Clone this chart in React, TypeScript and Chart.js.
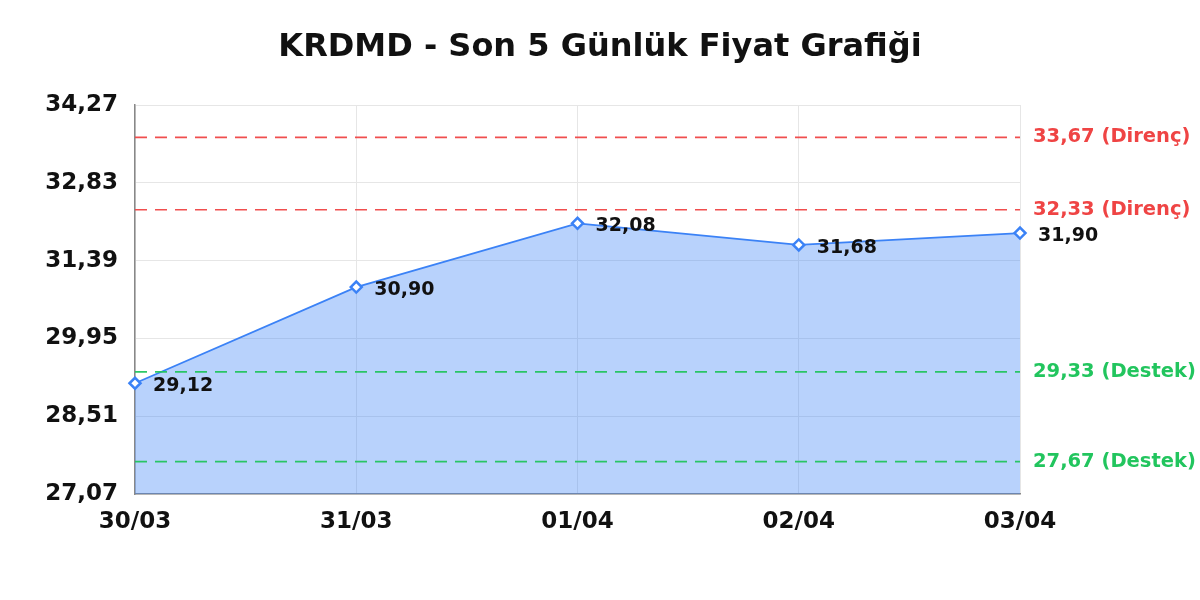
import { useEffect, useRef } from "react";
import { Chart, registerables } from "chart.js";

Chart.register(...registerables);

const days = ["30/03", "31/03", "01/04", "02/04", "03/04"];
const prices = [29.12, 30.9, 32.08, 31.68, 31.9];
const yTicks = [27.07, 28.51, 29.95, 31.39, 32.83, 34.27];
const resistance = [33.67, 32.33];
const support = [29.33, 27.67];
const titleText = "KRDMD - Son 5 Günlük Fiyat Grafiği";

const FONT = "'DejaVu Sans', sans-serif";
const fmt = (v: number) => v.toFixed(2).replace(".", ",");

const levelsPlugin = {
  id: "levels",
  afterDatasetsDraw(chart: any) {
    const { ctx, chartArea, scales, width } = chart;
    const y = scales.y;

    // title centred on the whole canvas
    ctx.save();
    ctx.fillStyle = "#111";
    ctx.font = `bold 32px ${FONT}`;
    ctx.textAlign = "center";
    ctx.textBaseline = "middle";
    ctx.fillText(titleText, width / 2, 48);
    ctx.restore();

    const draw = (vals: number[], line: string, text: string, tag: string) => {
      vals.forEach((v) => {
        const py = y.getPixelForValue(v);
        ctx.save();
        ctx.strokeStyle = line;
        ctx.lineWidth = 1.6;
        ctx.setLineDash([12, 8]);
        ctx.beginPath();
        ctx.moveTo(chartArea.left, py);
        ctx.lineTo(chartArea.right, py);
        ctx.stroke();
        ctx.setLineDash([]);
        ctx.fillStyle = text;
        ctx.font = `bold 19.5px ${FONT}`;
        ctx.textAlign = "left";
        ctx.textBaseline = "middle";
        ctx.fillText(`${fmt(v)} (${tag})`, chartArea.right + 13, py);
        ctx.restore();
      });
    };
    draw(resistance, "rgba(239,68,68,0.95)", "#ef4444", "Direnç");
    draw(support, "rgba(34,197,94,0.95)", "#22c55e", "Destek");

    // value labels next to the points
    const meta = chart.getDatasetMeta(0);
    ctx.save();
    ctx.fillStyle = "#111";
    ctx.font = `bold 19px ${FONT}`;
    ctx.textAlign = "left";
    ctx.textBaseline = "middle";
    meta.data.forEach((pt: any, i: number) => {
      ctx.fillText(fmt(prices[i]), pt.x + 18, pt.y + 3);
    });
    ctx.restore();
  },
};

export default function App() {
  const canvasRef = useRef<HTMLCanvasElement>(null);
  const chartRef = useRef<Chart | null>(null);

  useEffect(() => {
    document.body.style.margin = "0";
    if (!canvasRef.current) return;
    if (chartRef.current) chartRef.current.destroy();

    chartRef.current = new Chart(canvasRef.current, {
      type: "line",
      data: {
        labels: days,
        datasets: [
          {
            data: prices,
            borderColor: "#3b82f6",
            backgroundColor: "rgba(59,130,246,0.36)",
            borderWidth: 1.8,
            fill: "start",
            tension: 0,
            pointStyle: "rectRot",
            pointRadius: 5.5,
            pointBorderWidth: 2.5,
            pointBackgroundColor: "#ffffff",
            pointBorderColor: "#3b82f6",
          },
        ],
      },
      options: {
        animation: false,
        responsive: false,
        layout: { padding: { top: 105, right: 180, bottom: 56, left: 0 } },
        plugins: {
          legend: { display: false },
          tooltip: { enabled: false },
          title: { display: false },
        },
        scales: {
          x: {
            offset: false,
            grid: { color: "#e6e6e6", drawTicks: false },
            border: { color: "#888", width: 1.5 },
            ticks: {
              color: "#111",
              padding: 14,
              maxRotation: 0,
              font: { family: FONT, size: 23, weight: "bold" },
            },
            afterFit: (s: any) => {
              s.height = 50;
            },
          },
          y: {
            min: yTicks[0],
            max: yTicks[yTicks.length - 1],
            grid: { color: "#e6e6e6", drawTicks: false },
            border: { color: "#888", width: 1.5 },
            afterBuildTicks: (s: any) => {
              s.ticks = yTicks.map((v) => ({ value: v }));
            },
            ticks: {
              color: "#111",
              padding: 17,
              font: { family: FONT, size: 23, weight: "bold" },
              callback: (v: any) => fmt(Number(v)),
            },
            afterFit: (s: any) => {
              s.width = 135;
            },
          },
        },
      },
      plugins: [levelsPlugin],
    });

    return () => {
      if (chartRef.current) {
        chartRef.current.destroy();
        chartRef.current = null;
      }
    };
  }, []);

  return (
    <div style={{ width: 1200, height: 600 }}>
      <canvas ref={canvasRef} width={1200} height={600} />
    </div>
  );
}
